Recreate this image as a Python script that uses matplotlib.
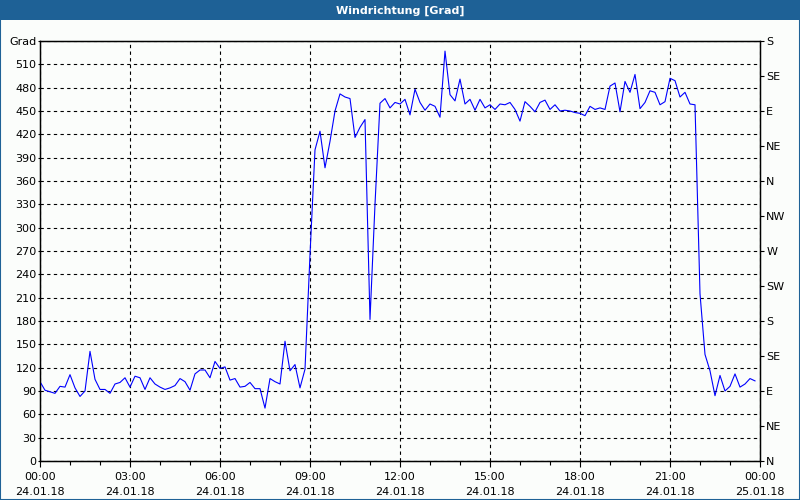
import matplotlib
matplotlib.use("Agg")
import matplotlib.pyplot as plt
from matplotlib.patches import Rectangle
import numpy as np

# wind direction, 10-minute samples starting 24.01.18 00:00
richtung = [
    102, 91, 89, 87, 96, 95, 111, 94, 83, 90,
    141, 105, 92, 92, 87, 99, 101, 107, 95, 109,
    107, 92, 107, 99, 95, 92, 94, 97, 106, 102,
    91, 112, 117, 117, 107, 128, 119, 121, 104, 106,
    95, 96, 101, 93, 93, 68, 106, 102, 99, 154,
    116, 124, 94, 118, 265, 400, 424, 377, 411, 450,
    472, 468, 466, 416, 429, 439, 182, 330, 460, 466,
    454, 461, 459, 465, 445, 478, 461, 451, 459, 456,
    442, 527, 471, 463, 491, 459, 465, 451, 465, 454,
    458, 452, 459, 458, 461, 452, 437, 462, 456, 449,
    461, 464, 452, 458, 450, 451, 450, 448, 447, 444,
    456, 452, 454, 452, 482, 486, 449, 488, 474, 497,
    453, 461, 476, 474, 458, 462, 492, 489, 468, 474,
    459, 458, 215, 137, 116, 84, 110, 90, 96, 112,
    95, 99, 106, 103,
]
stunden = np.arange(len(richtung)) / 6.0

x_ticks = [0, 3, 6, 9, 12, 15, 18, 21, 24]
x_labels = ["00:00\n24.01.18", "03:00\n24.01.18", "06:00\n24.01.18",
            "09:00\n24.01.18", "12:00\n24.01.18", "15:00\n24.01.18",
            "18:00\n24.01.18", "21:00\n24.01.18", "00:00\n25.01.18"]
kompass = ["N", "NE", "E", "SE", "S", "SW", "W", "NW",
           "N", "NE", "E", "SE", "S"]

bg = "#fbfdfb"
blau = "#1e6196"

fig = plt.figure(figsize=(8, 5), dpi=100)
fig.patch.set_facecolor(bg)

# title bar + frame
fig.patches.append(Rectangle((0, 1 - 20 / 500.), 1, 20 / 500., transform=fig.transFigure,
                             facecolor=blau, edgecolor="none", zorder=0))
fig.patches.append(Rectangle((0, 0), 1, 1, transform=fig.transFigure, fill=False,
                             edgecolor=blau, linewidth=1.5, zorder=5))
fig.text(0.5, 1 - 10.5 / 500., "Windrichtung [Grad]", color="white", ha="center",
         va="center", fontsize=8, fontweight="bold")

ax = fig.add_axes([40 / 800., 39 / 500., 720 / 800., 420 / 500.])
ax.set_facecolor(bg)
ax.plot(stunden, richtung, color="#0000ff", linewidth=0.8, zorder=3)

ax.set_xlim(0, 24)
ax.set_ylim(0, 540)

yt = list(range(0, 541, 30))
ax.set_yticks(yt)
ax.set_yticklabels([str(v) for v in yt[:-1]] + ["Grad"], fontsize=8)
ax.set_xticks(x_ticks)
ax.set_xticklabels(x_labels, fontsize=8, linespacing=1.6)
ax.set_xticks(range(0, 25), minor=True)

ax.tick_params(axis="x", which="major", length=4, width=0.8, pad=4)
ax.tick_params(axis="x", which="minor", length=3, width=0.8)
ax.tick_params(axis="y", length=1.5, width=0.8, pad=1)

ax.grid(True, color="black", linestyle=(0, (3, 3)), linewidth=0.8)
for s in ax.spines.values():
    s.set_linewidth(1.0)
    s.set_color("black")

ax2 = ax.twinx()
ax2.set_ylim(0, 540)
ax2.set_yticks(range(0, 541, 45))
ax2.set_yticklabels(kompass, fontsize=8)
ax2.tick_params(axis="y", length=3, width=0.8, pad=1.5)

fig.savefig("out.png", dpi=100, facecolor=bg)
